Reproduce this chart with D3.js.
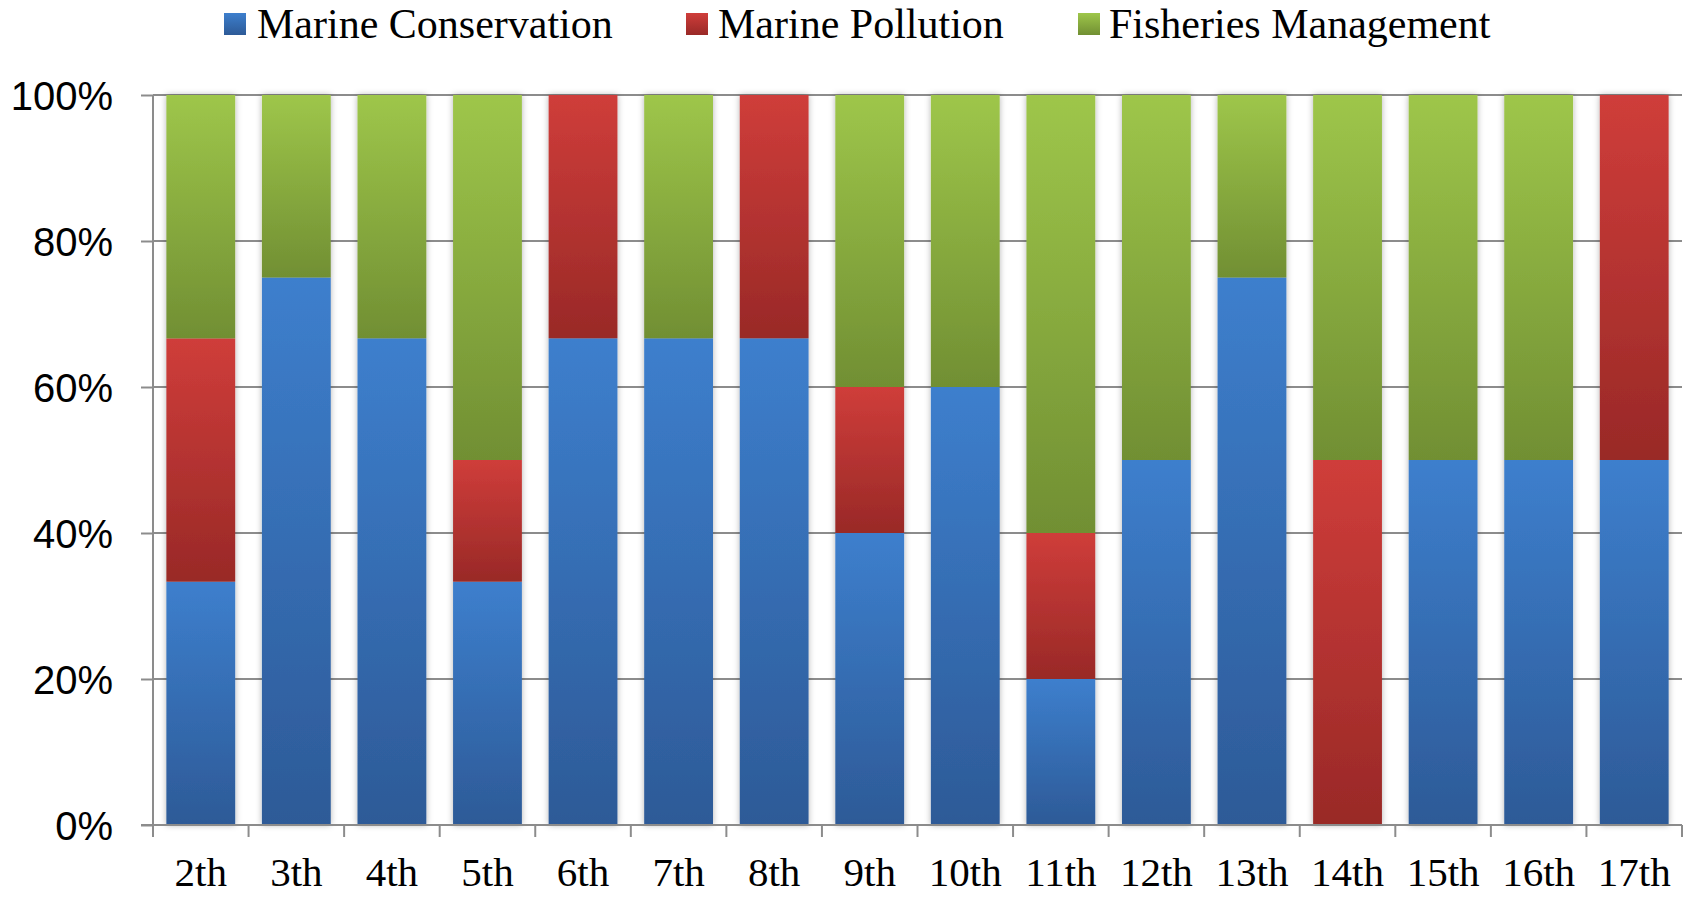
<!DOCTYPE html>
<html>
<head>
<meta charset="utf-8">
<script src="https://cdn.jsdelivr.net/npm/d3@7"></script>
<style>
  html, body { margin: 0; padding: 0; background: #fff; }
  svg { display: block; }
</style>
</head>
<body>
<svg id="chart" width="1692" height="897"></svg>
<script>
// Share of topics per edition (percent of each column)
const categories = ["2th","3th","4th","5th","6th","7th","8th","9th","10th","11th","12th","13th","14th","15th","16th","17th"];
const seriesNames = ["Marine Conservation", "Marine Pollution", "Fisheries Management"];
const marineConservation = [33.33, 75, 66.67, 33.33, 66.67, 66.67, 66.67, 40, 60, 20, 50, 75, 0, 50, 50, 50];
const marinePollution    = [33.33, 0, 0, 16.67, 33.33, 0, 33.33, 20, 0, 20, 0, 0, 50, 0, 0, 50];
const fisheriesMgmt      = [33.34, 25, 33.33, 50, 0, 33.33, 0, 40, 40, 60, 50, 25, 50, 50, 50, 0];
const yTicks = [0, 20, 40, 60, 80, 100];

const colorStops = [
  { top: "#3d7fcd", bottom: "#2d5a97" },
  { top: "#cf3d3a", bottom: "#992927" },
  { top: "#9ec64a", bottom: "#718f33" }
];

const svg = d3.select("#chart");
const margin = { left: 153, right: 1692 - 1682, top: 95, bottom: 897 - 825 };
const W = 1692, H = 897;

const x = d3.scaleBand().domain(categories).range([margin.left, W - margin.right]).paddingInner(0.28).paddingOuter(0.14);
const y = d3.scaleLinear().domain([0, 100]).range([H - margin.bottom, margin.top]);

const defs = svg.append("defs");
colorStops.forEach((c, i) => {
  const g = defs.append("linearGradient").attr("id", "grad" + i)
    .attr("x1", 0).attr("y1", 0).attr("x2", 0).attr("y2", 1);
  g.append("stop").attr("offset", "0%").attr("stop-color", c.top);
  g.append("stop").attr("offset", "100%").attr("stop-color", c.bottom);
});
const shadow = defs.append("filter").attr("id", "colShadow")
  .attr("x", "-20%").attr("y", "-5%").attr("width", "140%").attr("height", "110%");
shadow.append("feDropShadow").attr("dx", 0).attr("dy", 0).attr("stdDeviation", 3)
  .attr("flood-color", "#000").attr("flood-opacity", 0.3);

const gridColor = "#8c8c8c";

// gridlines
svg.append("g").selectAll("line").data(yTicks).join("line")
  .attr("x1", margin.left).attr("x2", W - margin.right)
  .attr("y1", d => y(d)).attr("y2", d => y(d))
  .attr("stroke", gridColor).attr("stroke-width", 2);

// stacked columns
const rows = categories.map((c, i) => ({
  cat: c,
  "Marine Conservation": marineConservation[i],
  "Marine Pollution": marinePollution[i],
  "Fisheries Management": fisheriesMgmt[i]
}));
const stacked = d3.stack().keys(seriesNames)(rows);

const cols = svg.append("g").selectAll("g").data(categories).join("g")
  .attr("filter", "url(#colShadow)");
cols.each(function (cat, ci) {
  const g = d3.select(this);
  stacked.forEach((layer, si) => {
    const seg = layer[ci];
    if (seg[1] - seg[0] <= 0) return;
    g.append("rect")
      .attr("x", x(cat))
      .attr("width", x.bandwidth())
      .attr("y", y(seg[1]))
      .attr("height", y(seg[0]) - y(seg[1]))
      .attr("fill", `url(#grad${si})`);
  });
});

// y axis
const yAxis = svg.append("g").attr("transform", `translate(${margin.left},0)`)
  .call(d3.axisLeft(y).tickValues(yTicks).tickFormat(d => d + "%").tickSize(12).tickPadding(28));
yAxis.select(".domain").attr("stroke", gridColor).attr("stroke-width", 2).attr("d", `M0,${y(100)}V${y(0)}`);
yAxis.selectAll(".tick line").attr("stroke", gridColor).attr("stroke-width", 2);
yAxis.selectAll(".tick text")
  .attr("font-family", "'Liberation Sans', Arial, sans-serif")
  .attr("font-size", 40).attr("fill", "#000").attr("dy", "0.36em");

// x axis: ticks on band boundaries
const xAxisG = svg.append("g").attr("transform", `translate(0,${y(0)})`);
const boundaries = d3.range(categories.length + 1).map(i => margin.left + i * (W - margin.right - margin.left) / categories.length);
xAxisG.append("line").attr("x1", margin.left - 12).attr("x2", W - margin.right)
  .attr("y1", 0).attr("y2", 0).attr("stroke", gridColor).attr("stroke-width", 2);
xAxisG.selectAll(".btick").data(boundaries).join("line").attr("class", "btick")
  .attr("x1", d => d).attr("x2", d => d).attr("y1", 0).attr("y2", 12)
  .attr("stroke", gridColor).attr("stroke-width", 2);
xAxisG.selectAll("text").data(categories).join("text")
  .attr("x", d => x(d) + x.bandwidth() / 2)
  .attr("y", 61)
  .attr("text-anchor", "middle")
  .attr("font-family", "'Liberation Serif', 'Times New Roman', serif")
  .attr("font-size", 41).attr("fill", "#000")
  .text(d => d);

// legend
const legendItems = [
  { name: seriesNames[0], mx: 224, tx: 257 },
  { name: seriesNames[1], mx: 686, tx: 718 },
  { name: seriesNames[2], mx: 1078, tx: 1109 }
];
const legend = svg.append("g");
legendItems.forEach((d, i) => {
  legend.append("rect").attr("x", d.mx).attr("y", 13).attr("width", 22).attr("height", 22)
    .attr("fill", `url(#grad${i})`);
  legend.append("text").attr("x", d.tx).attr("y", 38)
    .attr("font-family", "'Liberation Serif', 'Times New Roman', serif")
    .attr("font-size", 42).attr("fill", "#000").text(d.name);
});
</script>
</body>
</html>
